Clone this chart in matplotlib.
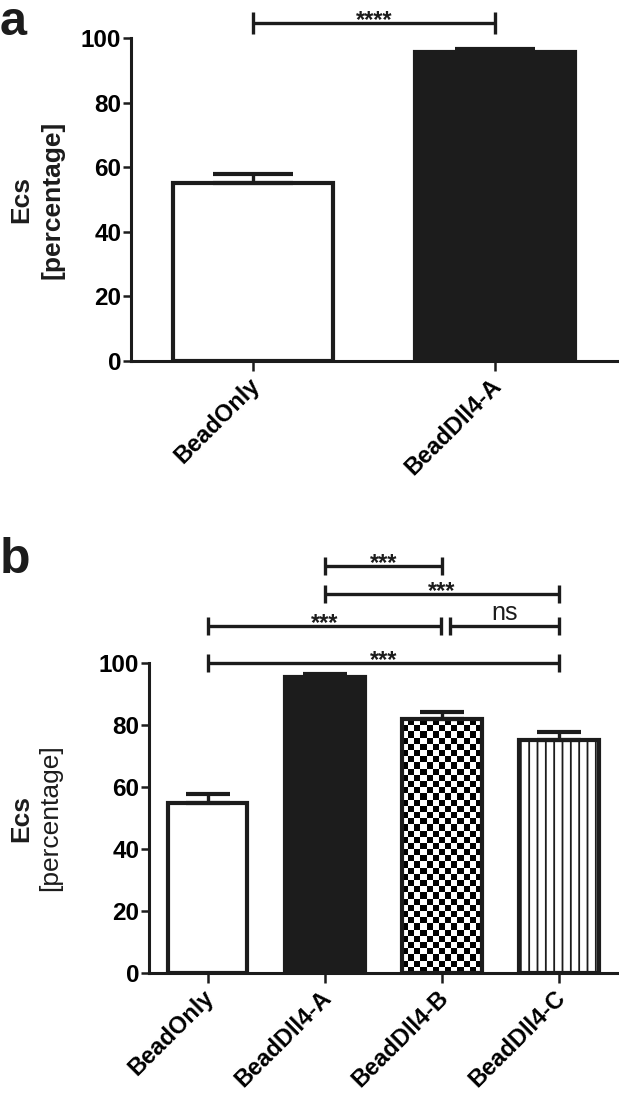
import numpy as np
import matplotlib
matplotlib.use("Agg")
import matplotlib.pyplot as plt
from matplotlib.colors import ListedColormap
from matplotlib.transforms import ScaledTranslation

plt.rcParams['font.family'] = ['Liberation Sans', 'DejaVu Sans']
plt.rcParams['hatch.linewidth'] = 1.3

# ---------------- data ----------------
categories_a = ['BeadOnly', 'BeadDll4-A']
means_a = [55.0, 95.7]
errs_a = [2.9, 0.9]
comparisons_a = [(0, 1, '****')]

categories_b = ['BeadOnly', 'BeadDll4-A', 'BeadDll4-B', 'BeadDll4-C']
means_b = [55.0, 95.6, 81.8, 75.1]
errs_b = [2.7, 1.0, 2.3, 2.5]
# (start, end, label, bracket height in data units)
comparisons_b = [(1, 2, '***', 131.3), (1, 3, '***', 122.3),
                 (0, 2, '***', 111.9), (2, 3, 'ns', 111.9),
                 (0, 3, '***', 100.0)]

yticks = [0, 20, 40, 60, 80, 100]

W, H = 619, 1094
fig = plt.figure(figsize=(W / 100, H / 100), dpi=100)

DARK = '#1c1c1c'
TICK_FS = 17.5
XLAB_FS = 17


def style_axes(ax, xlim):
    ax.set_xlim(*xlim)
    ax.set_ylim(0, 100)
    for s in ['top', 'right']:
        ax.spines[s].set_visible(False)
    for s in ['left', 'bottom']:
        ax.spines[s].set_linewidth(2.2)
        ax.spines[s].set_color(DARK)
    ax.set_yticks(yticks)
    ax.set_yticklabels([str(t) for t in yticks], fontsize=TICK_FS, fontweight='bold')
    ax.tick_params(axis='y', length=6, width=1.8, pad=1, color=DARK)
    ax.tick_params(axis='x', length=7, width=1.8, pad=8, color=DARK)


def set_xlabels(ax, cats):
    ax.set_xticks(range(len(cats)))
    ax.set_xticklabels(cats, rotation=45, ha='right', va='center',
                       rotation_mode='anchor', fontsize=XLAB_FS, fontweight='bold')
    off = ScaledTranslation(3 / 100, 0, fig.dpi_scale_trans)
    for lab in ax.get_xticklabels():
        lab.set_transform(lab.get_transform() + off)


def bracket(ax, x0, x1, y, label, half, txt_off, bold=True, fs=17):
    ax.plot([x0, x1], [y, y], color=DARK, lw=2.4, clip_on=False, solid_capstyle='butt')
    for x in (x0, x1):
        ax.plot([x, x], [y - half, y + half], color=DARK, lw=2.4, clip_on=False,
                solid_capstyle='butt')
    ax.text((x0 + x1) / 2, y + txt_off, label, ha='center', va='bottom',
            fontsize=fs, fontweight='bold' if bold else 'normal', color=DARK, clip_on=False)


def ylabel(ax, x_fig_ecs, x_fig_pct, bold_pct):
    pos = ax.get_position()
    yc = (pos.y0 + pos.y1) / 2
    fig.text(x_fig_ecs, yc, 'Ecs', rotation=90, ha='center', va='center',
             fontsize=19, fontweight='bold', color=DARK)
    fig.text(x_fig_pct, yc, '[percentage]', rotation=90, ha='center', va='center',
             fontsize=19, fontweight='bold' if bold_pct else 'normal', color=DARK)


# ---------------- panel a ----------------
axa = fig.add_axes([131 / W, 1 - 361 / H, (617 - 131) / W, (361 - 38) / H])
style_axes(axa, (-0.504, 1.504))
xa = np.arange(len(categories_a))
bars_a = axa.bar(xa, means_a, width=0.66, color=['white', DARK], edgecolor=DARK,
                 linewidth=3, zorder=2)
axa.errorbar(xa, means_a, yerr=[np.zeros(len(errs_a)), errs_a], fmt='none',
             ecolor=DARK, elinewidth=2.4, capsize=29, capthick=3, zorder=3)
set_xlabels(axa, categories_a)
for (i, j, lab) in comparisons_a:
    bracket(axa, xa[i], xa[j], 104.6, lab, 3.3, -2.6, fs=17)
ylabel(axa, 21 / W, 53 / W, True)
fig.text(0.0, 1.0, 'a', fontsize=35, fontweight='bold', ha='left',
         va='top', color=DARK)

# ---------------- panel b ----------------
axb = fig.add_axes([149 / W, 1 - 973 / H, (617 - 149) / W, (973 - 663) / H])
style_axes(axb, (-0.50, 3.495))
xb = np.arange(len(categories_b))
faces = ['white', DARK, 'none', 'white']
hatches = [None, None, None, '||']
bars_b = axb.bar(xb, means_b, width=0.68, color=faces, edgecolor=DARK,
                 linewidth=3, zorder=3)
for b, h in zip(bars_b, hatches):
    if h:
        b.set_hatch(h)
# checkerboard fill for the third bar
chk = bars_b[2]
x0, w, hgt = chk.get_x(), chk.get_width(), chk.get_height()
p0 = axb.transData.transform((x0, 0))
p1 = axb.transData.transform((x0 + w, hgt))
wpx, hpx = abs(p1[0] - p0[0]), abs(p1[1] - p0[1])
ncol = 13
nrow = int(round(hpx / (wpx / ncol)))
board = (np.add.outer(np.arange(nrow), np.arange(ncol)) % 2)
im = axb.imshow(board, extent=(x0, x0 + w, 0, hgt), cmap=ListedColormap(['white', 'black']),
                interpolation='nearest', aspect='auto', zorder=2, origin='lower')
im.set_clip_path(chk)
axb.set_xlim(-0.50, 3.495)
axb.set_ylim(0, 100)
axb.errorbar(xb, means_b, yerr=[np.zeros(len(errs_b)), errs_b], fmt='none',
             ecolor=DARK, elinewidth=2.4, capsize=15.5, capthick=3, zorder=4)
set_xlabels(axb, categories_b)
for (i, j, lab, yy) in comparisons_b:
    if lab == 'ns':
        bracket(axb, xb[i] + 0.07, xb[j], yy, lab, 2.9, 0.3, bold=False, fs=18)
    elif (i, j) == (0, 2):
        bracket(axb, xb[i], xb[j] - 0.01, yy, lab, 2.9, -3.0, fs=17)
    else:
        bracket(axb, xb[i], xb[j], yy, lab, 2.9, -3.0, fs=17)
ylabel(axb, 21 / W, 50 / W, False)
fig.text(0.0, 1 - 573 / H, 'b', fontsize=36, fontweight='bold', ha='left',
         va='baseline', color=DARK)

fig.savefig('out.png', dpi=100, facecolor='white')
